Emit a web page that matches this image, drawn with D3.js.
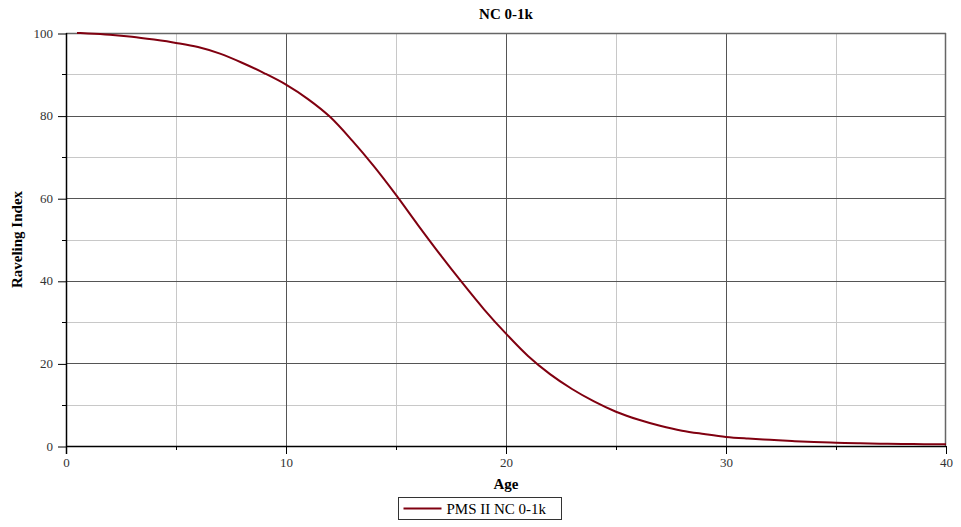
<!DOCTYPE html>
<html>
<head>
<meta charset="utf-8">
<script src="https://cdn.jsdelivr.net/npm/d3@7"></script>
<style>
  body { margin: 0; background: #fff; }
  svg { display: block; font-family: "Liberation Serif", "Times New Roman", serif; }
</style>
</head>
<body>
<div id="chart"></div>
<script>
// data
var ages = [0.5, 1, 2, 3, 4, 5, 6, 7, 8, 9, 10, 11, 12, 13, 14, 15, 16, 17, 18, 19, 20,
            21, 22, 23, 24, 25, 26, 27, 28, 29, 30, 31, 32, 33, 34, 35, 36, 37, 38, 39, 40];
var ravelingIndex = [100, 99.9, 99.6, 99.1, 98.4, 97.6, 96.6, 95.0, 92.8, 90.3, 87.5,
                     84.0, 79.7, 74.0, 67.7, 60.8, 53.5, 46.4, 39.6, 33.1, 27.2,
                     21.8, 17.4, 13.8, 10.8, 8.3, 6.4, 4.9, 3.7, 2.9, 2.2,
                     1.8, 1.5, 1.2, 0.95, 0.8, 0.65, 0.55, 0.5, 0.45, 0.4];
var xMajorTicks = [0, 10, 20, 30, 40];
var xMinorTicks = [5, 15, 25, 35];
var yMajorTicks = [0, 20, 40, 60, 80, 100];
var yMinorTicks = [10, 30, 50, 70, 90];
var seriesName = 'PMS II NC 0-1k';

var width = 961, height = 527;
var margin = { top: 33, right: 15, bottom: 81, left: 66 };
var plotW = width - margin.left - margin.right;
var plotH = height - margin.top - margin.bottom;

var svg = d3.select('#chart').append('svg')
    .attr('width', width)
    .attr('height', height);

var x = d3.scaleLinear().domain([0, 40]).range([0, plotW]);
var y = d3.scaleLinear().domain([0, 100]).range([plotH, 0]);

var g = svg.append('g')
    .attr('transform', 'translate(' + margin.left + ',' + margin.top + ')');

// minor grid
g.selectAll('.vminor').data(xMinorTicks).enter().append('line')
    .attr('x1', function (d) { return Math.round(x(d)) + 0.5; })
    .attr('x2', function (d) { return Math.round(x(d)) + 0.5; })
    .attr('y1', 0).attr('y2', plotH)
    .attr('stroke', '#c8c8c8');
g.selectAll('.hminor').data(yMinorTicks).enter().append('line')
    .attr('y1', function (d) { return Math.round(y(d)) + 0.5; })
    .attr('y2', function (d) { return Math.round(y(d)) + 0.5; })
    .attr('x1', 0).attr('x2', plotW)
    .attr('stroke', '#c8c8c8');

// major grid
g.selectAll('.vmajor').data(xMajorTicks.slice(1, -1)).enter().append('line')
    .attr('x1', function (d) { return Math.round(x(d)) + 0.5; })
    .attr('x2', function (d) { return Math.round(x(d)) + 0.5; })
    .attr('y1', 0).attr('y2', plotH)
    .attr('stroke', '#555');
g.selectAll('.hmajor').data(yMajorTicks.slice(1, -1)).enter().append('line')
    .attr('y1', function (d) { return Math.round(y(d)) + 0.5; })
    .attr('y2', function (d) { return Math.round(y(d)) + 0.5; })
    .attr('x1', 0).attr('x2', plotW)
    .attr('stroke', '#555');

// top & right border
g.append('line').attr('x1', 0).attr('x2', plotW).attr('y1', 0.5).attr('y2', 0.5)
    .attr('stroke', '#666').attr('stroke-width', 1.5);
g.append('line').attr('x1', plotW - 0.5).attr('x2', plotW - 0.5).attr('y1', 0).attr('y2', plotH)
    .attr('stroke', '#666').attr('stroke-width', 1.5);

// axes
var xAxis = d3.axisBottom(x).tickValues(xMajorTicks).tickSize(8).tickPadding(4);
var yAxis = d3.axisLeft(y).tickValues(yMajorTicks).tickSize(8).tickPadding(5);

var gx = g.append('g').attr('transform', 'translate(0,' + plotH + ')').call(xAxis);
var gy = g.append('g').call(yAxis);
[gx, gy].forEach(function (a) {
    a.select('.domain').remove();
    a.selectAll('line').attr('stroke', '#000');
    a.selectAll('text')
        .attr('fill', '#333')
        .style('font-size', '13px')
        .style('font-family', '"Liberation Serif", serif');
});
gy.selectAll('.tick line').attr('transform', 'translate(0,0.5)');

// minor ticks
g.selectAll('.xmt').data(xMinorTicks).enter().append('line')
    .attr('x1', function (d) { return Math.round(x(d)) + 0.5; })
    .attr('x2', function (d) { return Math.round(x(d)) + 0.5; })
    .attr('y1', plotH).attr('y2', plotH + 4)
    .attr('stroke', '#000');
g.selectAll('.ymt').data(yMinorTicks).enter().append('line')
    .attr('y1', function (d) { return Math.round(y(d)) + 0.5; })
    .attr('y2', function (d) { return Math.round(y(d)) + 0.5; })
    .attr('x1', -4).attr('x2', 0)
    .attr('stroke', '#000');

// axis lines
g.append('line').attr('x1', 0).attr('x2', plotW).attr('y1', plotH + 0.5).attr('y2', plotH + 0.5)
    .attr('stroke', '#000').attr('stroke-width', 1.5);
g.append('line').attr('x1', 0.5).attr('x2', 0.5).attr('y1', 0).attr('y2', plotH + 8)
    .attr('stroke', '#000').attr('stroke-width', 1.5);

// series
var points = ages.map(function (a, i) { return [a, ravelingIndex[i]]; });
var line = d3.line()
    .x(function (d) { return x(d[0]); })
    .y(function (d) { return y(d[1]); })
    .curve(d3.curveMonotoneX);
g.append('path')
    .datum(points)
    .attr('fill', 'none')
    .attr('stroke', '#800010')
    .attr('stroke-width', 2)
    .attr('d', line);

// titles
svg.append('text')
    .attr('x', margin.left + plotW / 2).attr('y', 19)
    .attr('text-anchor', 'middle')
    .style('font-size', '15px').style('font-weight', 'bold')
    .text('NC 0-1k');
svg.append('text')
    .attr('x', margin.left + plotW / 2).attr('y', 489)
    .attr('text-anchor', 'middle')
    .style('font-size', '15px').style('font-weight', 'bold')
    .text('Age');
svg.append('text')
    .attr('transform', 'translate(22,' + (margin.top + plotH / 2) + ') rotate(-90)')
    .attr('text-anchor', 'middle')
    .style('font-size', '15px').style('font-weight', 'bold')
    .text('Raveling Index');

// legend
var lg = svg.append('g').attr('transform', 'translate(398.5,497.5)');
lg.append('rect').attr('width', 163).attr('height', 22)
    .attr('fill', '#fff').attr('stroke', '#333');
lg.append('line').attr('x1', 5).attr('x2', 43).attr('y1', 11).attr('y2', 11)
    .attr('stroke', '#800010').attr('stroke-width', 2);
lg.append('text').attr('x', 48).attr('y', 16.5)
    .style('font-size', '15px')
    .text(seriesName);
</script>
</body>
</html>
